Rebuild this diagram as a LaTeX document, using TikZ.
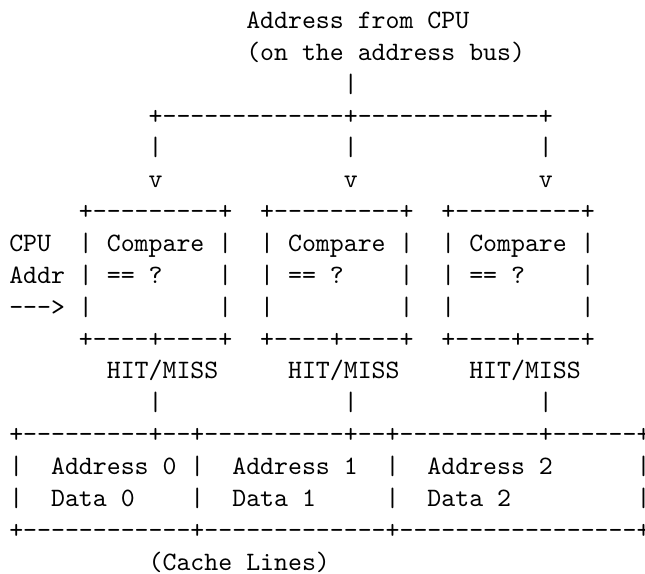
\documentclass[tikz,border=0pt]{standalone}
\usepackage{fontspec}
\setmonofont{lmmono10-regular.otf}
\newlength\cwid
\setlength\cwid{5.25pt}
\newcommand\sk[1]{\hspace*{#1\cwid}}
\newcommand\asline[4]{\node[asc] (#1) at ({3.5+#2*5.25},{-(10.73+12*(#3-1))}) {#4};}
\begin{document}
\begin{tikzpicture}[x=1pt,y=1pt,
  asc/.style={anchor=base west, inner sep=0pt, outer sep=0pt, font=\ttfamily\frenchspacing, text=black}]
\useasboundingbox (0,0) rectangle (242.94,-216.19);
\asline{l1}{17}{1}{Address from CPU}
\asline{l2}{17}{2}{(on the address bus)}
\asline{l3}{24}{3}{|}
\asline{l4}{10}{4}{+-------------+-------------+}
\asline{l5}{10}{5}{|\sk{13}|\sk{13}|}
\asline{l6}{10}{6}{v\sk{13}v\sk{13}v}
\asline{l7}{5}{7}{+---------+\sk{2}+---------+\sk{2}+---------+}
\asline{l8}{0}{8}{CPU\sk{2}| Compare |\sk{2}| Compare |\sk{2}| Compare |}
\asline{l9}{0}{9}{Addr | == ?\sk{4}|\sk{2}| == ?\sk{4}|\sk{2}| == ?\sk{4}|}
\asline{l10}{0}{10}{---> |\sk{9}|\sk{2}|\sk{9}|\sk{2}|\sk{9}|}
\asline{l11}{5}{11}{+----+----+\sk{2}+----+----+\sk{2}+----+----+}
\asline{l12}{7}{12}{HIT/MISS\sk{5}HIT/MISS\sk{5}HIT/MISS}
\asline{l13}{10}{13}{|\sk{13}|\sk{13}|}
\asline{l14}{0}{14}{+---------+--+----------+--+----------+------+}
\asline{l15}{0}{15}{|\sk{2}Address 0 |\sk{2}Address 1\sk{2}|\sk{2}Address 2\sk{6}|}
\asline{l16}{0}{16}{|\sk{2}Data 0\sk{4}|\sk{2}Data 1\sk{5}|\sk{2}Data 2\sk{9}|}
\asline{l17}{0}{17}{+------------+-------------+-----------------+}
\asline{l18}{10}{18}{(Cache Lines)}
\end{tikzpicture}
\end{document}
